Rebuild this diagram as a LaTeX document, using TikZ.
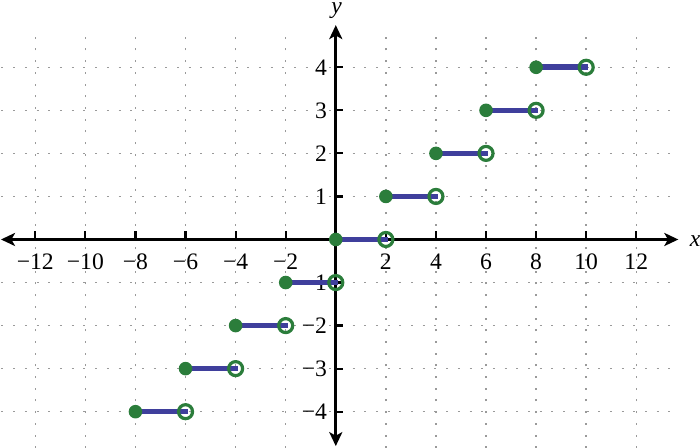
\documentclass[tikz,border=0pt]{standalone}
\usepackage{fontspec}
\setmainfont{Liberation Serif}
\usetikzlibrary{arrows.meta}
\definecolor{segblue}{HTML}{3F3F9C}
\definecolor{dotgreen}{HTML}{2B7D3B}
\definecolor{gridgray}{HTML}{9A9A9A}
\begin{document}
\begin{tikzpicture}[x=12.52pt,y=21.525pt,
  gridline/.style={gridgray,line width=0.75pt,dash pattern=on 1pt off 4.85pt},
  axisline/.style={black,line width=1.4pt,{Stealth[length=7pt,width=6.5pt,inset=1.8pt]}-{Stealth[length=7pt,width=6.5pt,inset=1.8pt]}},
  tickline/.style={black,line width=1.1pt},
  ticklabel/.style={inner sep=0pt,font=\fontsize{11.8}{14}\selectfont},
  axislabel/.style={inner sep=0pt,font=\fontsize{11.8}{14}\selectfont\itshape},
  seg/.style={segblue,line width=2.8pt,shorten >=-1pt},
  closeddot/.style={circle,fill=dotgreen,inner sep=0pt,minimum size=6.8pt},
  opendot/.style={circle,draw=dotgreen,line width=1.6pt,inner sep=0pt,minimum size=7pt},
]
\useasboundingbox (-13.41,-4.843) rectangle (14.545,5.563);
% grid
\foreach \y in {-4,-3,-2,-1,1,2,3,4}
  \draw[gridline] (-13.35,\y) -- (13.35,\y);
\foreach \x in {-12,-10,-8,-6,-4,-2,2,4,6,8,10,12}
  \draw[gridline] (\x,-4.85) -- (\x,4.75);
% axes
\coordinate (xl) at (-13.37,0);
\coordinate (xr) at (13.68,0);
\coordinate (yb) at (0,-4.8);
\coordinate (yt) at (0,4.98);
\draw[axisline] (xl) -- (xr);
\draw[axisline] (yb) -- (yt);
% x ticks and labels
\foreach \x/\t in {-12/−12,-10/−10,-8/−8,-6/−6,-4/−4,-2/−2,2/2,4/4,6/6,8/8,10/10,12/12}{
  \draw[tickline] (\x,0) -- (\x,0.186);
  \node[ticklabel] (lx\x) at (\x,-0.516) {\t};
}
% y ticks and labels
\foreach \y/\t in {-4/−4,-3/−3,-2/−2,-1/−1,1/1,2/2,3/3,4/4}{
  \draw[tickline] (0,\y) -- (0.3,\y);
  \node[ticklabel,anchor=east] (ly\y) at (-0.34,\y) {\t};
}
\node[axislabel] (xlab) at (14.35,-0.03) {x};
\node[axislabel] (ylab) at (0.03,5.31) {y};
% step function
\foreach \k in {-4,...,4}{
  \coordinate (a\k) at ({2*\k},\k);
  \coordinate (b\k) at ({2*\k+2},\k);
  \draw[seg] (a\k) -- (b\k);
  \node[closeddot] (f\k) at (a\k) {};
  \node[opendot] (o\k) at (b\k) {};
}
\end{tikzpicture}
\end{document}
